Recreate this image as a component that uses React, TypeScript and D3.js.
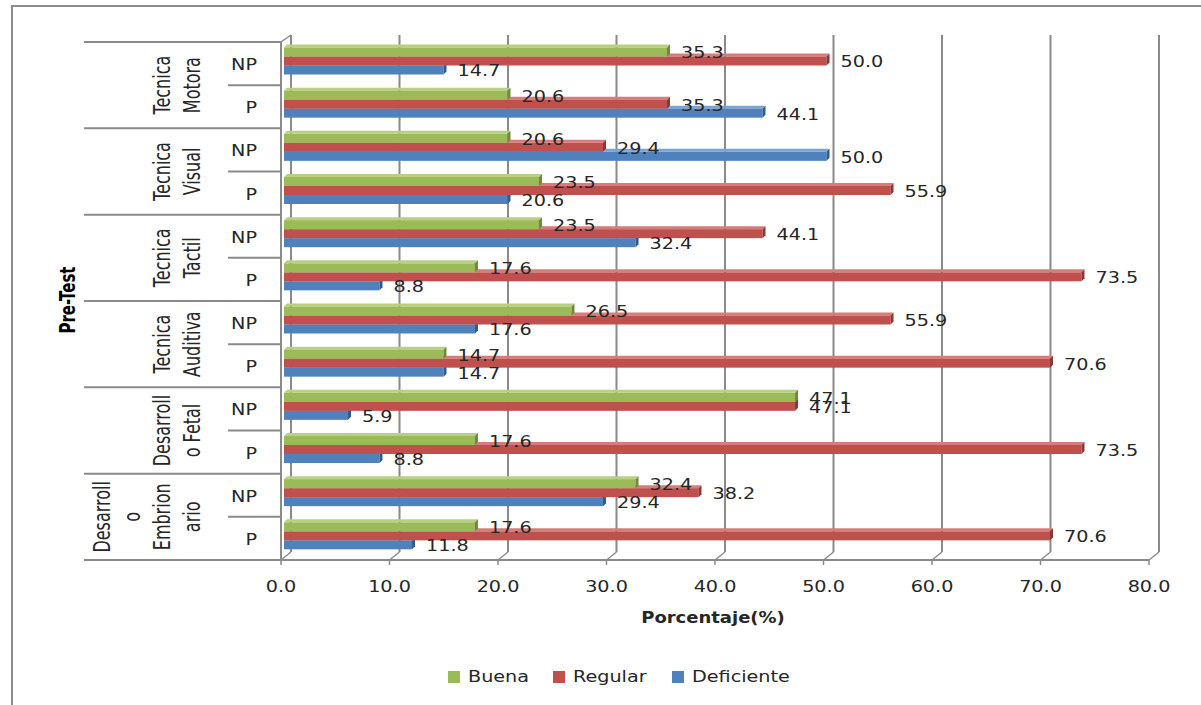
import React from "react";
import * as d3 from "d3";

const groupLabels: string[][] = [
  ["Tecnica", "Motora"],
  ["Tecnica", "Visual"],
  ["Tecnica", "Tactil"],
  ["Tecnica", "Auditiva"],
  ["Desarroll", "o Fetal"],
  ["Desarroll", "o", "Embrion", "ario"],
];
const subLabels = ["NP", "P"];
const rows = groupLabels.flatMap((g, gi) => subLabels.map((s) => `${gi}-${s}`));
const series = ["Buena", "Regular", "Deficiente"];
const buena = [35.3, 20.6, 20.6, 23.5, 23.5, 17.6, 26.5, 14.7, 47.1, 17.6, 32.4, 17.6];
const regular = [50.0, 35.3, 29.4, 55.9, 44.1, 73.5, 55.9, 70.6, 47.1, 73.5, 38.2, 70.6];
const deficiente = [14.7, 44.1, 50.0, 20.6, 32.4, 8.8, 17.6, 14.7, 5.9, 8.8, 29.4, 11.8];
const xTicks = [0, 10, 20, 30, 40, 50, 60, 70, 80];
const values = [buena, regular, deficiente];

const front = ["#9BBB59", "#C0504D", "#4F81BD"];
const topC = ["#b9d084", "#d67d7a", "#7ea3d2"];
const capC = ["#71893d", "#8e3634", "#2f5b91"];

const W = 1201, H = 705;
const AX = 281, AX2 = 1149, TOP = 42, BOT = 560;
const DX = 10, DY = 8;
const grid = "#8a8a8a";
const txt = "#262626";
const FONT = "DejaVu Sans";
const SX = 1.2; // horizontal stretch of horizontal text
const RSX = 1.4; // horizontal stretch of rotated text

export default function App() {
  const x = d3.scaleLinear().domain([0, 80]).range([AX, AX2]);
  const xb = (v: number) => x(v) + 3;
  const y = d3.scaleBand<string>().domain(rows).range([TOP, BOT]);
  const rh = y.bandwidth();
  const ys = d3.scaleBand<string>().domain(series).range([5.5, 32.5]);
  const bh = ys.bandwidth();
  const f = d3.format(".1f");
  const depth = 3;

  const hText = (
    tx: number,
    ty: number,
    s: string,
    anchor: string,
    opts: { size?: number; weight?: string } = {}
  ) => (
    <g transform={`translate(${tx},${ty}) scale(${SX},1)`}>
      <text
        x={0}
        y={0}
        textAnchor={anchor as any}
        dominantBaseline="central"
        fontFamily={FONT}
        fontSize={opts.size ?? 16}
        fontWeight={opts.weight ?? "normal"}
        fill={txt}
      >
        {s}
      </text>
    </g>
  );

  const groupH = rh * subLabels.length;

  return (
    <svg width={W} height={H} style={{ position: "absolute", left: 0, top: 0, background: "#fff" }}>
      {/* outer border */}
      <path d={`M12,${H} L12,6 L${W},6`} fill="none" stroke="#8c8c8c" strokeWidth={2} />

      {/* back wall gridlines + floor connectors */}
      {xTicks.map((t) => (
        <g key={t}>
          <line x1={x(t) + DX} x2={x(t) + DX} y1={TOP - DY + 1} y2={BOT - DY} stroke={grid} strokeWidth={2} />
          <line x1={x(t)} y1={BOT} x2={x(t) + DX} y2={BOT - DY} stroke={grid} strokeWidth={1.5} />
          <line x1={x(t)} x2={x(t)} y1={BOT} y2={BOT + 5} stroke={grid} strokeWidth={1.5} />
          {hText(x(t), 587, f(t), "middle")}
        </g>
      ))}
      {/* left wall */}
      <line x1={AX} y1={TOP} x2={AX + DX} y2={TOP - DY + 1} stroke={grid} strokeWidth={1.5} />
      <line x1={AX} x2={AX} y1={TOP} y2={BOT} stroke={grid} strokeWidth={2} />
      <line x1={AX} x2={AX2} y1={BOT} y2={BOT} stroke={grid} strokeWidth={2} />

      {/* category separators */}
      {groupLabels.map((_, gi) => (
        <line key={"g" + gi} x1={84} x2={AX} y1={TOP + gi * groupH} y2={TOP + gi * groupH} stroke={grid} strokeWidth={2} />
      ))}
      <line x1={84} x2={AX} y1={BOT} y2={BOT} stroke={grid} strokeWidth={2} />
      {groupLabels.map((_, gi) => (
        <line key={"s" + gi} x1={228} x2={AX} y1={TOP + gi * groupH + rh} y2={TOP + gi * groupH + rh} stroke={grid} strokeWidth={2} />
      ))}

      {/* sub labels */}
      {rows.map((r, i) => (
        <g key={"sl" + r}>{hText(257, (y(r) as number) + rh / 2 + 1, subLabels[i % 2], "end")}</g>
      ))}

      {/* group labels (rotated) */}
      {groupLabels.map((lines, gi) => {
        const cy = TOP + gi * groupH + groupH / 2;
        const n = lines.length;
        return lines.map((ln, li) => {
          const bx = 200 - (n - 1 - li) * 30;
          return (
            <g key={`gl${gi}-${li}`} transform={`translate(${bx},${cy}) scale(${RSX},1) rotate(-90)`}>
              <text x={0} y={0} textAnchor="middle" fontFamily={FONT} fontSize={16} fill={txt}>
                {ln}
              </text>
            </g>
          );
        });
      })}

      {/* axis title rotated */}
      <g transform={`translate(75,300) scale(${RSX},1) rotate(-90)`}>
        <text x={0} y={0} textAnchor="middle" fontFamily={FONT} fontSize={15} fontWeight="bold" fill="#000">
          Pre-Test
        </text>
      </g>

      {/* bars: draw bottom series first */}
      {[2, 1, 0].map((si) =>
        rows.map((r, i) => {
          const v = values[si][i];
          const yy = (y(r) as number) + (ys(series[si]) as number);
          const x0 = xb(0);
          const x1 = xb(v);
          return (
            <g key={`b${si}-${i}`}>
              <polygon
                points={`${x0},${yy} ${x1},${yy} ${x1 + depth},${yy - depth} ${x0 + depth},${yy - depth}`}
                fill={topC[si]}
              />
              <rect x={x0} y={yy} width={x1 - x0} height={bh} fill={front[si]} />
              <polygon
                points={`${x1},${yy} ${x1 + depth},${yy - depth} ${x1 + depth},${yy + bh - depth} ${x1},${yy + bh}`}
                fill={capC[si]}
              />
            </g>
          );
        })
      )}

      {/* data labels */}
      {[2, 1, 0].map((si) =>
        rows.map((r, i) => {
          const v = values[si][i];
          const yy = (y(r) as number) + (ys(series[si]) as number) + bh / 2 + 1;
          return <g key={`l${si}-${i}`}>{hText(xb(v) + 14, yy, f(v), "start")}</g>;
        })
      )}

      {/* x axis title */}
      {hText(713, 618, "Porcentaje(%)", "middle", { size: 15, weight: "bold" })}

      {/* legend */}
      {series.map((s, si) => {
        const lx = [448, 553, 672][si];
        return (
          <g key={"lg" + s}>
            <rect x={lx} y={671} width={12} height={12} fill={front[si]} />
            {hText(lx + 20, 677, s, "start")}
          </g>
        );
      })}
    </svg>
  );
}
